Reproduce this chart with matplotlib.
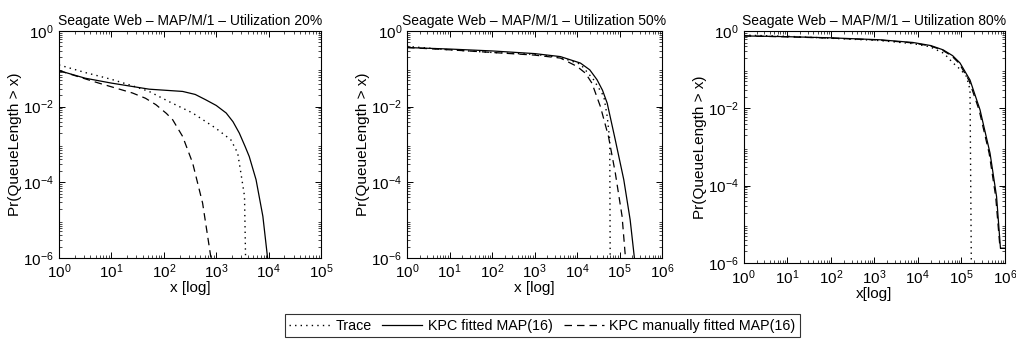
import matplotlib
matplotlib.use("Agg")
import matplotlib.pyplot as plt
from matplotlib.ticker import LogLocator, NullFormatter

plt.rcParams['font.family'] = ['Liberation Sans', 'DejaVu Sans']
plt.rcParams['mathtext.fontset'] = 'custom'
plt.rcParams['mathtext.rm'] = 'Liberation Sans'

titles = ["Seagate Web \u2013 MAP/M/1 \u2013 Utilization 20%",
          "Seagate Web \u2013 MAP/M/1 \u2013 Utilization 50%",
          "Seagate Web \u2013 MAP/M/1 \u2013 Utilization 80%"]
xlabels = ["x [log]", "x [log]", "x[log]"]
xmax = [1e5, 1e6, 1e6]

# utilization 20%
trace20_x = [1, 3.16, 10, 25.1, 52.5, 126, 355, 977, 1905, 2570, 2951, 3467, 3631]
trace20_y = [0.126, 0.0794, 0.0525, 0.0355, 0.0251, 0.0135, 0.00676, 0.00269, 0.00132, 0.000589, 0.000178, 4.27e-5, 1e-6]
kpc20_x = [1, 3.16, 10, 52.5, 229, 398, 631, 1000, 1549, 2089, 2754, 3548, 4266, 5754, 7762, 9550]
kpc20_y = [0.0891, 0.0562, 0.0417, 0.0288, 0.0251, 0.0209, 0.0151, 0.0107, 0.00676, 0.00398, 0.002,
           0.000891, 0.000479, 0.000117, 1.26e-5, 1e-6]
man20_x = [1, 5.75, 25.1, 44.7, 70.8, 112, 148, 229, 355, 550, 794]
man20_y = [0.0891, 0.0417, 0.0229, 0.0166, 0.0112, 0.0066, 0.00447, 0.00162, 0.000324, 2.82e-5, 1e-6]

# utilization 50%
trace50_x = [1, 10, 100, 1000, 4074, 12023, 24547, 42658, 51286, 58884, 60256]
trace50_y = [0.389, 0.316, 0.269, 0.24, 0.2, 0.132, 0.0513, 0.0186, 0.0055, 0.00132, 1e-6]
kpc50_x = [1, 10, 100, 1000, 4074, 12023, 19953, 29512, 39811, 51286, 79433, 125893, 177828, 223872]
kpc50_y = [0.363, 0.331, 0.295, 0.251, 0.209, 0.141, 0.0933, 0.0513, 0.0269, 0.0123, 0.00132,
           0.000117, 1.02e-5, 1e-6]
man50_x = [1, 10, 100, 1000, 4074, 10000, 15849, 22387, 35481, 54954, 79433, 114815, 138038]
man50_y = [0.363, 0.316, 0.269, 0.229, 0.191, 0.115, 0.0759, 0.0417, 0.01, 0.00162, 0.000178, 1.26e-5, 1e-6]

# utilization 80%
trace80_x = [1, 10, 100, 1349, 7762, 19055, 39811, 64565, 100000, 131826, 158489, 169824]
trace80_y = [0.776, 0.724, 0.646, 0.562, 0.468, 0.389, 0.263, 0.148, 0.0955, 0.0661, 0.0302, 1e-6]
kpc80_x = [1, 10, 100, 1349, 7762, 19953, 38019, 63096, 93325, 158489, 269153, 457088, 645654, 794328, 1e6]
kpc80_y = [0.741, 0.708, 0.661, 0.589, 0.501, 0.417, 0.324, 0.229, 0.148, 0.0537, 0.00912,
           0.000692, 5.25e-5, 2.4e-6, 2.4e-6]
man80_x = [1, 10, 100, 1300, 7400, 19000, 36300, 60300, 89100, 151000, 257000, 437000, 617000, 776000, 1e6]
man80_y = [0.741, 0.70, 0.65, 0.58, 0.49, 0.41, 0.32, 0.225, 0.145, 0.052, 0.0089,
           0.00068, 5.2e-5, 2.4e-6, 2.4e-6]

traces = [(trace20_x, trace20_y), (trace50_x, trace50_y), (trace80_x, trace80_y)]
kpcs = [(kpc20_x, kpc20_y), (kpc50_x, kpc50_y), (kpc80_x, kpc80_y)]
mans = [(man20_x, man20_y), (man50_x, man50_y), (man80_x, man80_y)]

fig = plt.figure(figsize=(10.16, 3.43), dpi=100)
positions = [[0.058, 0.248, 0.258, 0.662],
             [0.4006, 0.248, 0.251, 0.662],
             [0.732, 0.233, 0.257, 0.677]]

for i in range(3):
    ax = fig.add_axes(positions[i])
    l1, = ax.plot(traces[i][0], traces[i][1], color="black", linestyle=(0, (1, 3)), linewidth=1, label="Trace")
    l2, = ax.plot(kpcs[i][0], kpcs[i][1], color="black", linestyle="-", linewidth=0.9, label="KPC fitted MAP(16)")
    l3, = ax.plot(mans[i][0], mans[i][1], color="black", linestyle=(0, (6, 4)), linewidth=0.9,
                  label="KPC manually fitted MAP(16)")
    ax.set_xscale("log")
    ax.set_yscale("log")
    ax.set_xlim(1, xmax[i])
    ax.set_ylim(1e-6, 1)
    ax.set_yticks([1e-6, 1e-4, 1e-2, 1])
    ax.xaxis.set_major_locator(LogLocator(base=10, numticks=10))
    ax.xaxis.set_minor_locator(LogLocator(base=10, subs=range(2, 10), numticks=20))
    ax.yaxis.set_minor_locator(LogLocator(base=10, subs=range(2, 10), numticks=20))
    ax.xaxis.set_minor_formatter(NullFormatter())
    ax.yaxis.set_minor_formatter(NullFormatter())
    ax.tick_params(which="both", direction="in", top=True, right=True, labelsize=11)
    ax.tick_params(which="major", length=4, width=0.7)
    ax.tick_params(which="minor", length=2, width=0.5)
    for s in ax.spines.values():
        s.set_linewidth(0.8)
    ax.set_title(titles[i], fontsize=10, pad=4)
    ax.set_xlabel(xlabels[i], fontsize=11, labelpad=0)
    ax.set_ylabel("Pr(QueueLength > x)", fontsize=11, labelpad=1)

leg = fig.legend(handles=[l1, l2, l3], loc="center", bbox_to_anchor=(0.534, 0.051), ncol=3,
                 fontsize=10.3, frameon=True, fancybox=False, edgecolor="black",
                 handlelength=2.8, handletextpad=0.4, columnspacing=0.75, borderpad=0.3)
leg.get_frame().set_linewidth(0.8)

fig.savefig("out.png", dpi=100)
